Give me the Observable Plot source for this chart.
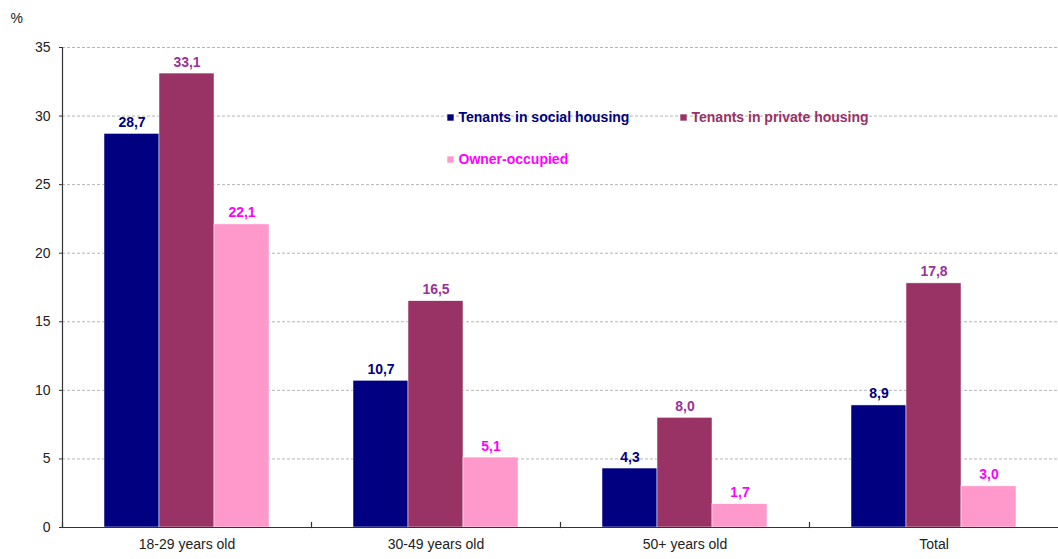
<!DOCTYPE html>
<html>
<head>
<meta charset="utf-8">
<script src="https://cdn.jsdelivr.net/npm/d3@7"></script>
<script src="https://cdn.jsdelivr.net/npm/@observablehq/plot@0.6"></script>
<style>
  html, body { margin: 0; padding: 0; background: #fff; }
  #chart { width: 1058px; height: 559px; }
</style>
</head>
<body>
<div id="chart"></div>
<script>
const categories = ["18-29 years old", "30-49 years old", "50+ years old", "Total"];
const seriesNames = ["Tenants in social housing", "Tenants in private housing", "Owner-occupied"];
const socialHousing = [28.7, 10.7, 4.3, 8.9];
const privateHousing = [33.1, 16.5, 8.0, 17.8];
const ownerOccupied = [22.1, 5.1, 1.7, 3.0];
const yTicks = [0, 5, 10, 15, 20, 25, 30, 35];
const barColors = ["#000080", "#993366", "#FF99CC"];
const valueLabelColors = ["#000080", "#993399", "#FF00FF"];
const legendTextColors = ["#000080", "#993366", "#FF00FF"];

const seriesValues = [socialHousing, privateHousing, ownerOccupied];
const data = [];
categories.forEach((c, i) => {
  seriesNames.forEach((s, j) => {
    data.push({category: c, series: s, value: seriesValues[j][i], si: j});
  });
});
const fmt = v => v.toFixed(1).replace(".", ",");
const font = "'Liberation Sans', Arial, sans-serif";

function legendItem(j, dx, dy) {
  return [
    Plot.dot([seriesNames[j]], {frameAnchor: "top-left", dx: dx, dy: dy, symbol: "square", r: 3.6, fill: barColors[j], stroke: "none", facetAnchor: "left"}),
    Plot.text([seriesNames[j]], {frameAnchor: "top-left", lineAnchor: "middle", dx: dx + 8, dy: dy, text: d => d, textAnchor: "start", fill: legendTextColors[j], fontWeight: "bold", fontSize: 14, facetAnchor: "left"})
  ];
}

const chart = Plot.plot({
  width: 1058,
  height: 559,
  marginLeft: 61,
  marginRight: 0,
  marginTop: 47,
  marginBottom: 32,
  style: {fontFamily: font, fontSize: "14px", color: "#222", background: "#fff"},
  fx: {domain: categories, padding: 0, label: null},
  x: {domain: seriesNames, paddingInner: 0, paddingOuter: 0.75, axis: null},
  y: {domain: [0, 35], ticks: yTicks, label: null},
  color: {domain: seriesNames, range: barColors},
  marks: [
    Plot.gridY(yTicks.filter(d => d > 0), {stroke: "#b4b4b4", strokeOpacity: 1, strokeDasharray: "3,2"}),
    Plot.barY(data, {fx: "category", x: "series", y: "value", fill: "series", stroke: "#fff", strokeWidth: 0.5}),
    Plot.text(data, {fx: "category", x: "series", y: "value", text: d => fmt(d.value), fill: d => valueLabelColors[d.si], fontWeight: "bold", fontSize: 14, lineAnchor: "bottom", dy: -7}),
    Plot.frame({anchor: "left", insetTop: 475, stroke: "#333", strokeWidth: 1.2}),
    Plot.ruleY([0], {stroke: "#333", strokeWidth: 1.2}),
    Plot.frame({anchor: "left", stroke: "#333", strokeWidth: 1.2, facetAnchor: "left"}),
    Plot.axisY({ticks: yTicks, tickSize: 3, tickPadding: 9, label: null, fontSize: 14, stroke: "#333"}),
    Plot.axisFx({anchor: "bottom", tickSize: 0, tickPadding: 12, label: null, fontSize: 14}),
    Plot.text(["%"], {frameAnchor: "top-left", lineAnchor: "middle", dx: -52, dy: -29, text: d => d, textAnchor: "start", fontSize: 14, fill: "#222", facetAnchor: "left"}),
    ...legendItem(0, 388, 70),
    ...legendItem(1, 621, 70),
    ...legendItem(2, 388, 112)
  ]
});
document.getElementById("chart").appendChild(chart);
</script>
</body>
</html>
